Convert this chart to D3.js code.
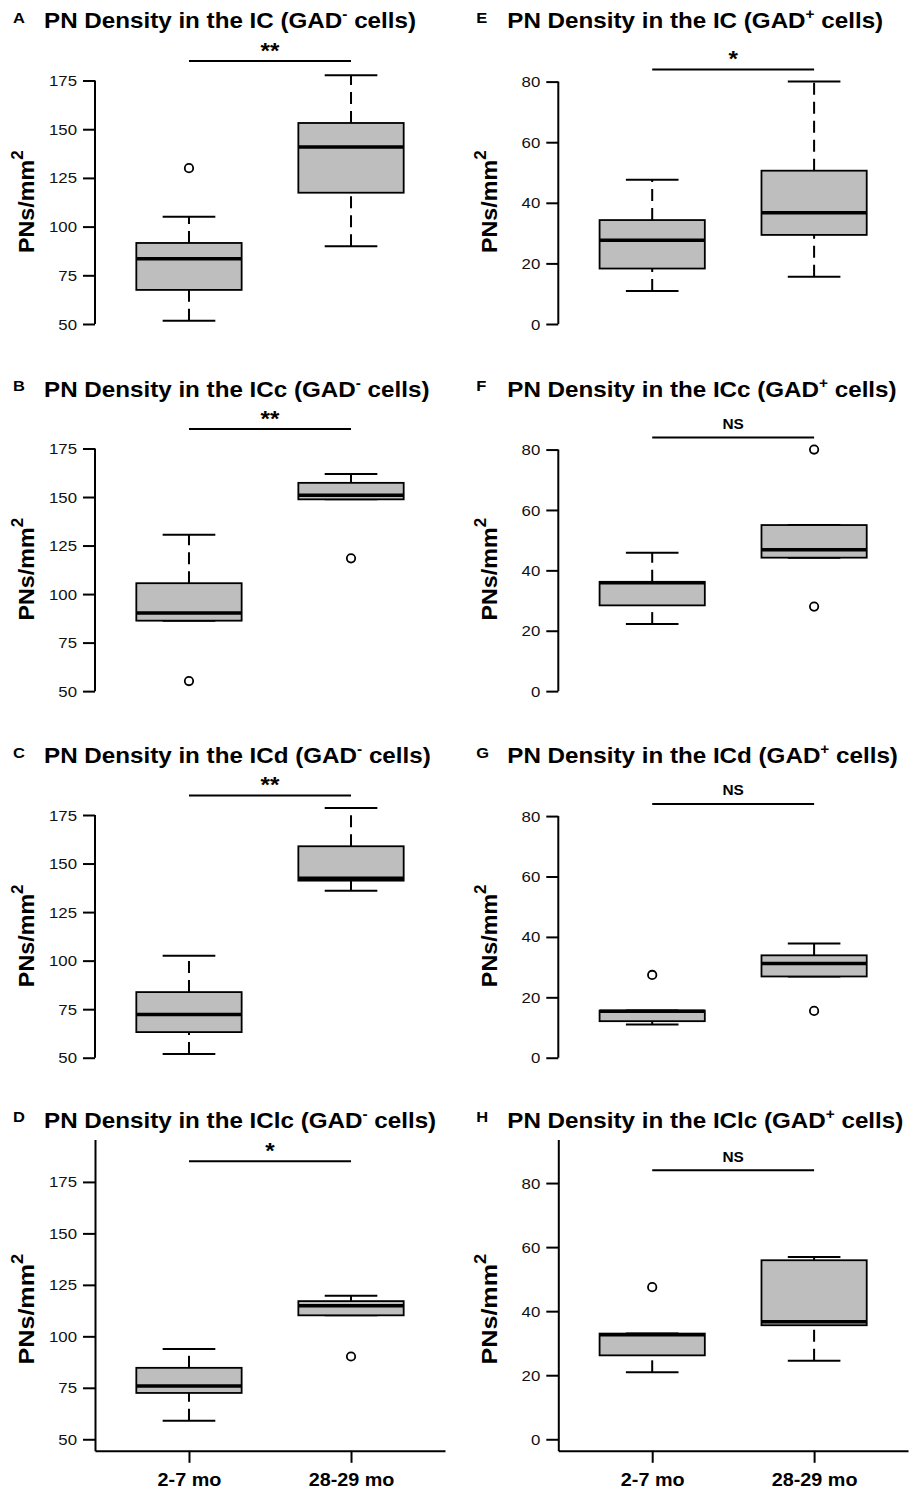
<!DOCTYPE html>
<html>
<head>
<meta charset="utf-8">
<script src="https://cdn.jsdelivr.net/npm/d3@7"></script>
<style>
  body { margin: 0; background: #fff; }
  text { font-family: "Liberation Sans", Arial, Helvetica, sans-serif; }
</style>
</head>
<body>
<div id="graph"></div>
<script>
//Groups on the x axis
var groups = ["2-7 mo", "28-29 mo"];

//Regions, one per row
var regions = ["IC", "ICc", "ICd", "IClc"];
var lettersNeg = ["A", "B", "C", "D"];
var lettersPos = ["E", "F", "G", "H"];

//Tick labels
var ticksNeg = [50, 75, 100, 125, 150, 175];
var ticksPos = [0, 20, 40, 60, 80];

//y limits before the 4% padding, and height of the significance bar
var limNeg = [50, 190], limPos = [0, 90];
var sigNegLevel = 185, sigPosLevel = 84;

//Box stats: [lower whisker, Q1, median, Q3, upper whisker] for each group
var statsNeg = [
  [[51.7, 67.5, 83.5, 91.6, 105.1], [89.9, 117.4, 140.9, 153.2, 177.7]],
  [[86.3, 86.3, 90.3, 105.6, 130.6], [148.8, 148.8, 150.9, 157.3, 161.9]],
  [[51.9, 63.2, 72.3, 83.8, 102.5], [136.0, 141.2, 142.4, 158.9, 178.6]],
  [[59.0, 72.5, 75.9, 84.7, 93.8], [110.2, 110.2, 114.8, 117.1, 119.7]]
];
var outliersNeg = [
  [[130], []],
  [[55.2], [118.4]],
  [[], []],
  [[], [90.2]]
];
var statsPos = [
  [[10.9, 18.3, 27.6, 34.3, 47.6], [15.6, 29.4, 36.7, 50.6, 80.0]],
  [[22.2, 28.4, 35.9, 36.2, 45.8], [44.2, 44.2, 46.8, 55.0, 55.0]],
  [[11.0, 12.1, 15.4, 15.6, 15.6], [26.9, 26.9, 31.2, 33.9, 37.8]],
  [[20.9, 26.2, 32.6, 33.0, 33.0], [24.5, 35.6, 36.7, 55.9, 56.9]]
];
var outliersPos = [
  [[], []],
  [[], [80, 28]],
  [[27.4], [15.5]],
  [[47.5], []]
];

//Significance labels
var sigNeg = ["**", "**", "**", "*"];
var sigPos = ["*", "NS", "NS", "NS"];

//Layout
var width = 910, height = 1491;
var rowPlot = [[40.4, 334.9], [408.5, 702], [775, 1068.6], [1139.5, 1450.8]];
var colX = [[95, 445], [558.3, 908]];
var boxWidth = 0.65;
var SX = 1.1; //horizontal stretch of the text

var svg = d3.select("#graph").append("svg")
  .attr("width", width).attr("height", height);

//R style padding of the limits
function pad(lim) {
  var d = (lim[1] - lim[0]) * 0.04;
  return [lim[0] - d, lim[1] + d];
}

function drawPanel(row, col) {
  var neg = col == 0;
  var stats = neg ? statsNeg[row] : statsPos[row];
  var outs = neg ? outliersNeg[row] : outliersPos[row];
  var ticks = neg ? ticksNeg : ticksPos;
  var top = rowPlot[row][0], bottom = rowPlot[row][1];
  var last = row == regions.length - 1;

  var x = d3.scaleLinear()
    .domain([0.5 - 0.08, groups.length + 0.5 + 0.08])
    .range(colX[col]);
  var y = d3.scaleLinear()
    .domain(pad(neg ? limNeg : limPos))
    .range([bottom, top]);

  var g = svg.append("g");
  var x0 = colX[col][0];

  //Title
  var tY = top - 12;
  g.append("text")
    .attr("transform", "translate(" + (x0 - 82) + "," + (tY - 5.5) + ") scale(" + SX + ",1)")
    .attr("font-size", 15).attr("font-weight", "bold")
    .text(neg ? lettersNeg[row] : lettersPos[row]);
  var title = g.append("text")
    .attr("transform", "translate(" + (x0 - 51) + "," + tY + ") scale(" + SX + ",1)")
    .attr("font-size", 22).attr("font-weight", "bold");
  title.append("tspan").text("PN Density in the " + regions[row] + " (GAD");
  title.append("tspan").attr("font-size", 14).attr("dy", -9).text(neg ? "-" : "+");
  title.append("tspan").attr("dy", 9).text(" cells)");

  //Y axis
  var yAxis = g.append("g")
    .attr("transform", "translate(" + x0 + ",0)")
    .call(d3.axisLeft(y).tickValues(ticks).tickSize(12).tickSizeOuter(0));
  yAxis.selectAll("line").attr("stroke", "#000").attr("stroke-width", 2);
  yAxis.selectAll("text")
    .attr("x", 0).attr("dy", "0.36em")
    .attr("transform", "translate(-18,0) scale(1.2,1)")
    .attr("font-size", 14).attr("fill", "#111")
    .attr("font-family", "Liberation Sans, Arial, sans-serif");
  if (last) {
    yAxis.select(".domain").attr("stroke", "#000").attr("stroke-width", 2);
  } else {
    yAxis.select(".domain").remove();
    yAxis.append("line")
      .attr("y1", y(ticks[0])).attr("y2", y(ticks[ticks.length - 1]))
      .attr("stroke", "#000").attr("stroke-width", 2);
  }

  //Y label
  var yl = g.append("text")
    .attr("transform", "translate(" + (x0 - 61) + "," + ((top + bottom) / 2 + 14) + ") rotate(-90) scale(" + (last ? 1.14 : 1.06) + ",1)")
    .attr("text-anchor", "middle")
    .attr("font-size", 22).attr("font-weight", "bold");
  yl.append("tspan").text("PNs/mm");
  yl.append("tspan").attr("font-size", 16).attr("dy", -11).text("2");

  //X axis on the bottom row only
  if (last) {
    var xAxis = g.append("g")
      .attr("transform", "translate(0," + bottom + ")")
      .call(d3.axisBottom(x).tickValues(groups.map(function(d, i) { return i + 1; }))
        .tickSize(12).tickSizeOuter(0)
        .tickFormat(function(d) { return groups[d - 1]; }));
    xAxis.select(".domain").attr("stroke", "#000").attr("stroke-width", 2);
    xAxis.selectAll("line").attr("stroke", "#000").attr("stroke-width", 2);
    xAxis.selectAll("text")
      .attr("y", 0).attr("dy", 0)
      .attr("transform", "translate(0,35.5) scale(" + SX + ",1)")
      .attr("font-size", 18).attr("font-weight", "bold").attr("fill", "#000")
      .attr("font-family", "Liberation Sans, Arial, sans-serif");
  }

  //Significance bar
  var sy = y(neg ? sigNegLevel : sigPosLevel);
  g.append("line")
    .attr("x1", x(1)).attr("x2", x(2)).attr("y1", sy).attr("y2", sy)
    .attr("stroke", "#000").attr("stroke-width", 2);
  var lab = neg ? sigNeg[row] : sigPos[row];
  var isNS = lab == "NS";
  g.append("text")
    .attr("transform", "translate(" + ((x(1) + x(2)) / 2) + "," + (sy - (isNS ? 8.5 : 3.5)) + ") scale(" + SX + ",1)")
    .attr("text-anchor", "middle")
    .attr("font-size", isNS ? 14 : 22).attr("font-weight", "bold")
    .text(lab);

  //Boxes
  var half = x(1 + boxWidth / 2) - x(1);
  stats.forEach(function(s, i) {
    var cx = x(i + 1);
    var b = g.append("g");
    //whiskers
    [[s[0], s[1]], [s[3], s[4]]].forEach(function(w) {
      if (w[0] == w[1]) return;
      b.append("line")
        .attr("x1", cx).attr("x2", cx).attr("y1", y(w[0])).attr("y2", y(w[1]))
        .attr("stroke", "#000").attr("stroke-width", 2)
        .attr("stroke-dasharray", "12,7");
    });
    //staples
    [s[0], s[4]].forEach(function(v) {
      b.append("line")
        .attr("x1", cx - half / 2).attr("x2", cx + half / 2)
        .attr("y1", y(v)).attr("y2", y(v))
        .attr("stroke", "#000").attr("stroke-width", 2);
    });
    //box
    b.append("rect")
      .attr("x", cx - half).attr("width", half * 2)
      .attr("y", y(s[3])).attr("height", y(s[1]) - y(s[3]))
      .attr("fill", "#bebebe").attr("stroke", "#000").attr("stroke-width", 1.8);
    //median
    b.append("line")
      .attr("x1", cx - half).attr("x2", cx + half)
      .attr("y1", y(s[2])).attr("y2", y(s[2]))
      .attr("stroke", "#000").attr("stroke-width", 3.5);
    //outliers
    outs[i].forEach(function(v) {
      b.append("circle")
        .attr("cx", cx).attr("cy", y(v)).attr("r", 4.2)
        .attr("fill", "none").attr("stroke", "#000").attr("stroke-width", 1.8);
    });
  });
}

for (var r = 0; r < regions.length; r++) {
  drawPanel(r, 0);
  drawPanel(r, 1);
}
</script>
</body>
</html>
